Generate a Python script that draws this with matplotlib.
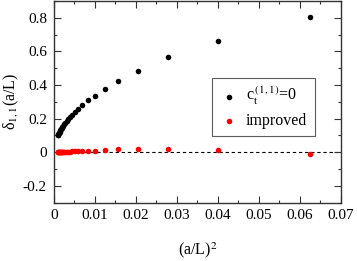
import matplotlib
matplotlib.use("Agg")
import matplotlib.pyplot as plt
from matplotlib.ticker import MultipleLocator

plt.rcParams['font.family'] = ['Liberation Serif', 'DejaVu Serif']
plt.rcParams['mathtext.fontset'] = 'stix'

# (a/L)^2 for L/a = 4 ... 32
x_vals = [0.0625, 0.04, 0.02778, 0.02041, 0.01563, 0.01235, 0.01, 0.00826, 0.00694,
          0.00592, 0.0051, 0.00444, 0.00391, 0.00346, 0.00309, 0.00277, 0.0025,
          0.00227, 0.00207, 0.00189, 0.00174, 0.0016, 0.00148, 0.00137, 0.00128,
          0.00119, 0.00111, 0.00104, 0.00098]
delta_ct0 = [0.805, 0.662, 0.565, 0.486, 0.426, 0.375, 0.337, 0.31, 0.28,
             0.258, 0.239, 0.223, 0.208, 0.196, 0.185, 0.174, 0.165,
             0.157, 0.150, 0.143, 0.136, 0.131, 0.125, 0.120, 0.116,
             0.112, 0.108, 0.104, 0.100]
delta_improved = [-0.012, 0.014, 0.021, 0.021, 0.017, 0.012, 0.008, 0.007, 0.006,
                  0.005, 0.004, 0.004, 0.003, 0.003, 0.002, 0.002, 0.002,
                  0.001, 0.001, 0.001, 0.001, 0.001, 0.0, 0.0, 0.0,
                  0.0, 0.0, 0.0, 0.0]
x_ticks = [0, 0.01, 0.02, 0.03, 0.04, 0.05, 0.06, 0.07]
x_labels = ['0', '0.01', '0.02', '0.03', '0.04', '0.05', '0.06', '0.07']
y_ticks = [-0.2, 0, 0.2, 0.4, 0.6, 0.8]
y_labels = ['-0.2', '0', '0.2', '0.4', '0.6', '0.8']

fig = plt.figure(figsize=(3.57, 2.61), dpi=100)
ax = fig.add_axes([0.151, 0.224, 0.804, 0.772])

ax.axhline(0, color='black', linestyle='--', linewidth=0.8, dashes=(3, 2.5), zorder=1)
ax.scatter(x_vals, delta_ct0, s=16, color='black', linewidths=0, zorder=3,
           label=r'c$_\mathrm{t}^{\,(1,1)}$=0')
ax.scatter(x_vals, delta_improved, s=16, color='#ff0000', linewidths=0, zorder=3,
           label='improved')

ax.set_xticks(x_ticks)
ax.set_xticklabels(x_labels)
ax.set_yticks(y_ticks)
ax.set_yticklabels(y_labels)
ax.xaxis.set_minor_locator(MultipleLocator(0.005))
ax.yaxis.set_minor_locator(MultipleLocator(0.1))
ax.set_xlim(0, 0.07)
ax.set_ylim(-0.3, 0.9)

ax.tick_params(which='both', direction='in', top=True, right=True, labelsize=11,
               color='#333333')
ax.tick_params(which='major', length=5, width=0.8, pad=5)
ax.tick_params(which='minor', length=2.5, width=0.8)
for sp in ax.spines.values():
    sp.set_color('#333333')
    sp.set_linewidth(1)

ax.set_xlabel(r'(a/L)$^2$', fontsize=11.5, labelpad=13)
ax.set_ylabel('δ$_{1,1}$(a/L)', fontsize=11.5, labelpad=1)

leg = ax.legend(loc='upper left', bbox_to_anchor=(0.55, 0.618), fontsize=11.5,
                frameon=True, fancybox=False, edgecolor='#333333',
                borderaxespad=0, handletextpad=0.4, borderpad=0.45,
                labelspacing=0.35, handlelength=1.3, scatterpoints=1)
leg.get_frame().set_linewidth(0.8)

fig.savefig('out.png', dpi=100)
